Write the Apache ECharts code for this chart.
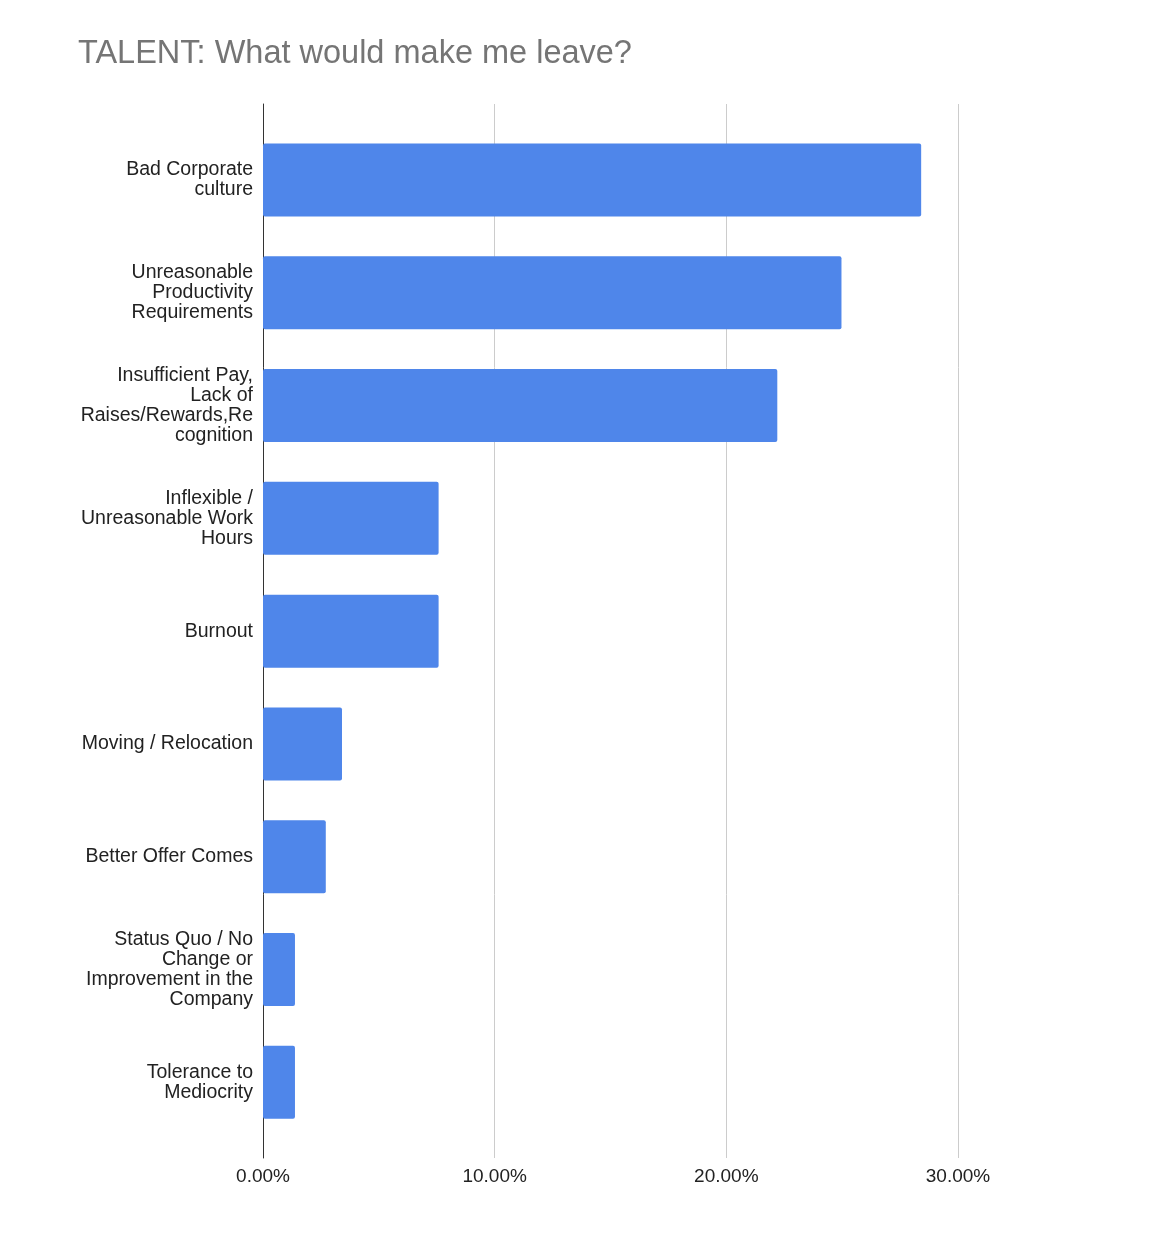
<!DOCTYPE html>
<html>
<head>
<meta charset="utf-8">
<script src="https://cdn.jsdelivr.net/npm/echarts@6/dist/echarts.min.js"></script>
<style>
html,body{margin:0;padding:0;background:#fff;}
#chart{width:1150px;height:1252px;}
</style>
</head>
<body>
<div id="chart"></div>
<script>
const title = 'TALENT: What would make me leave?';
const categories = [
  'Bad Corporate\nculture',
  'Unreasonable\nProductivity\nRequirements',
  'Insufficient Pay,\nLack of\nRaises/Rewards,Re\ncognition',
  'Inflexible /\nUnreasonable Work\nHours',
  'Burnout',
  'Moving / Relocation',
  'Better Offer Comes',
  'Status Quo / No\nChange or\nImprovement in the\nCompany',
  'Tolerance to\nMediocrity'
];
const values = [28.41, 24.97, 22.2, 7.58, 7.58, 3.41, 2.71, 1.38, 1.38];
const tickLabels = ['0.00%', '10.00%', '20.00%', '30.00%'];

const FONT = "'Liberation Sans', Arial, sans-serif";
const chart = echarts.init(document.getElementById('chart'));
chart.setOption({
  backgroundColor: '#ffffff',
  animation: false,
  title: {
    text: title,
    left: 78,
    top: 38,
    padding: 0,
    textStyle: { fontFamily: FONT, fontSize: 32.5, fontWeight: 'normal', color: '#757575' }
  },
  grid: [
    { left: 263, right: 192, top: 104, bottom: 94, containLabel: false },
    { left: 263, right: 192, top: 123.6, bottom: 113.3, containLabel: false }
  ],
  xAxis: [
    {
      gridIndex: 0, type: 'value', min: 0, max: 30, interval: 10,
      axisLine: { show: false }, axisTick: { show: false },
      splitLine: { show: true, lineStyle: { color: '#cccccc', width: 1 } },
      axisLabel: {
        margin: 9, fontFamily: FONT, fontSize: 19, color: '#222222',
        formatter: function (v) { return tickLabels[Math.round(v / 10)]; }
      }
    },
    {
      gridIndex: 1, type: 'value', min: 0, max: 30, show: false,
      splitLine: { show: false }
    }
  ],
  yAxis: [
    {
      gridIndex: 0, type: 'value', min: 0, max: 1,
      axisLine: { show: true, lineStyle: { color: '#333333', width: 1 } },
      axisTick: { show: false }, axisLabel: { show: false }, splitLine: { show: false }
    },
    {
      gridIndex: 1, type: 'category', data: categories, inverse: true,
      axisLine: { show: false }, axisTick: { show: false },
      axisLabel: {
        margin: 10, fontFamily: FONT, fontSize: 19.5, lineHeight: 20,
        color: '#222222', align: 'right', interval: 0
      }
    }
  ],
  series: [
    {
      type: 'bar', xAxisIndex: 1, yAxisIndex: 1, data: values,
      barWidth: 73,
      itemStyle: { color: '#4f86ea', borderRadius: 2 }
    }
  ]
});
</script>
</body>
</html>
